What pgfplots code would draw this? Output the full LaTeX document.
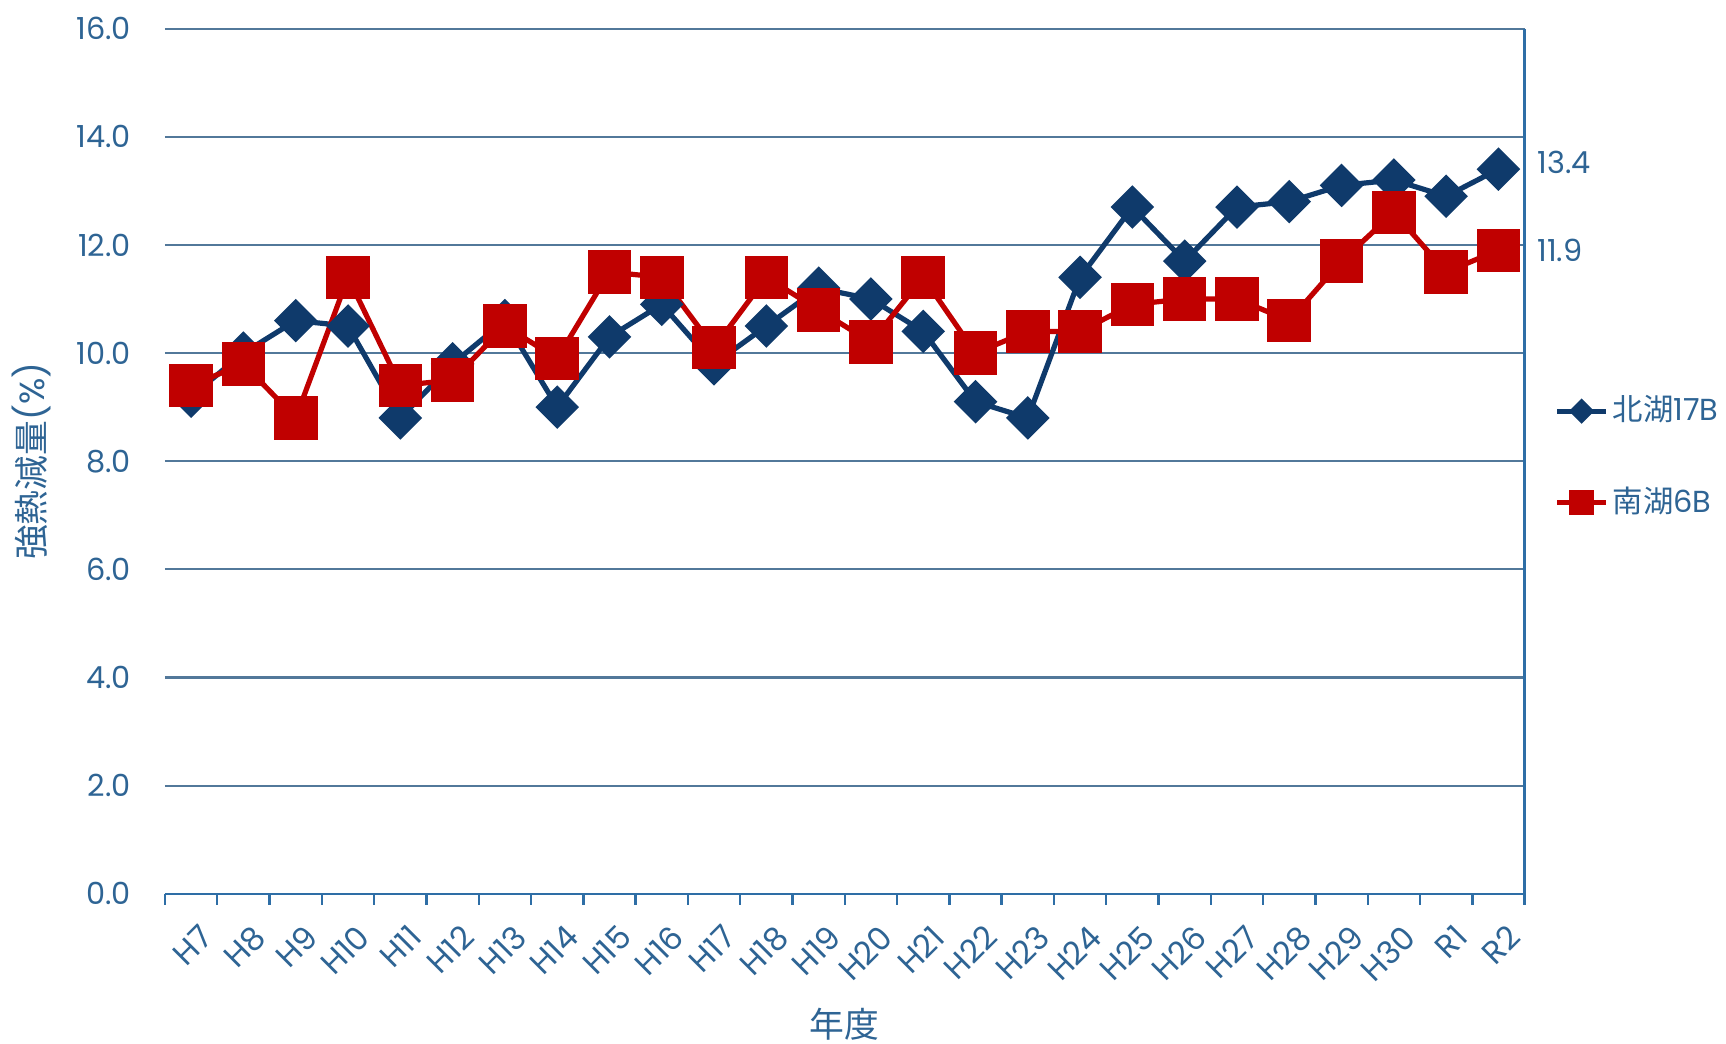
\documentclass[border=0pt]{standalone}
\usepackage{fontspec}
\setmainfont{Poppins}
\newfontfamily\cjk{Noto Sans CJK JP}
\usepackage{pgfplots}
\pgfplotsset{compat=1.18}
\definecolor{navy}{HTML}{0F3A6B}
\definecolor{dred}{HTML}{C00000}
\definecolor{txt}{HTML}{2E6494}
\definecolor{gridc}{HTML}{52789A}
\definecolor{axc}{HTML}{2E6EA6}
\begin{document}
\begin{tikzpicture}
\useasboundingbox (-41.25pt,-37.3pt) rectangle (390.25pt,223.45pt);
\begin{axis}[
  at={(0pt,0pt)}, anchor=south west,
  scale only axis, width=339.9pt, height=216.3pt,
  xmin=-0.5, xmax=25.5, ymin=0, ymax=16,
  clip=false,
  font=\fontsize{7.6}{9}\selectfont,
  /pgf/number format/assume math mode=true,
  xtick={0,...,25},
  xticklabels={H7,H8,H9,H10,H11,H12,H13,H14,H15,H16,H17,H18,H19,H20,H21,H22,H23,H24,H25,H26,H27,H28,H29,H30,R1,R2},
  minor xtick={-0.5,0.5,...,25.5},
  major tick length=0pt,
  minor tick length=2.75pt,
  xtick align=outside,
  xtick pos=bottom,
  minor x tick style={axc, line width=0.6pt},
  major x tick style={draw=none},
  xticklabel style={rotate=45, anchor=north east, text=txt, inner sep=0.5pt, xshift=-3.2pt, yshift=-5.8pt, font=\fontsize{8}{9}\selectfont},
  ytick={0,2,...,16},
  ytick pos=left,
  ytick style={draw=none},
  yticklabel style={text=txt, xshift=-5pt,
    /pgf/number format/.cd, fixed, fixed zerofill, precision=1},
  ymajorgrids,
  major grid style={gridc, line width=0.55pt},
  axis line style={draw=none},
  xlabel={\cjk 年度},
  ylabel={{\cjk 強熱減量}(\%)},
  every axis x label/.style={at={(axis description cs:0.5,0)}, anchor=center, yshift=-32.5pt, text=txt, font=\fontsize{8.7}{10}\selectfont},
  every axis y label/.style={at={(axis description cs:0,0.5)}, rotate=90, anchor=center, yshift=33.5pt, text=txt, font=\fontsize{8.7}{10}\selectfont},
  legend style={at={(rel axis cs:1.0215,0.505)}, anchor=west, draw=none, fill=none,
    font=\fontsize{7.6}{9}\selectfont, text=txt, row sep=11pt, inner sep=0pt,
    nodes={inner xsep=1pt}},
  legend cell align=left,
  legend image code/.code={\draw[mark repeat=2, mark phase=2, #1] plot coordinates {(0pt,0pt) (6.1pt,0pt) (12.25pt,0pt)};},
]
\draw[axc, line width=0.6pt] (rel axis cs:0,0) -- (rel axis cs:1,0) -- (rel axis cs:1,1);
\addplot[navy, line width=1.3pt, mark=square*, mark size=3.2pt, mark options={rotate=45, solid, fill=navy},
  legend image post style={mark size=1.6pt}]
  coordinates {(0,9.2)(1,10.0)(2,10.6)(3,10.5)(4,8.8)(5,9.8)(6,10.6)(7,9.0)(8,10.3)(9,10.9)(10,9.8)(11,10.5)(12,11.2)(13,11.0)(14,10.4)(15,9.1)(16,8.8)(17,11.4)(18,12.7)(19,11.7)(20,12.7)(21,12.8)(22,13.1)(23,13.2)(24,12.9)(25,13.4)};
\addlegendentry{{\cjk 北湖}17B}
\addplot[dred, line width=1.3pt, mark=square*, mark size=4.8pt, mark options={solid, fill=dred},
  legend image post style={mark size=2.4pt}]
  coordinates {(0,9.4)(1,9.8)(2,8.8)(3,11.4)(4,9.4)(5,9.5)(6,10.5)(7,9.9)(8,11.5)(9,11.4)(10,10.1)(11,11.4)(12,10.8)(13,10.2)(14,11.4)(15,10.0)(16,10.4)(17,10.4)(18,10.9)(19,11.0)(20,11.0)(21,10.6)(22,11.7)(23,12.6)(24,11.5)(25,11.9)};
\addlegendentry{{\cjk 南湖}6B}
\node[anchor=west, text=txt, xshift=-0.3pt, yshift=1.75pt] at (axis cs:25.5,13.4) {13.4};
\node[anchor=west, text=txt, xshift=-0.3pt] at (axis cs:25.5,11.9) {11.9};
\end{axis}
\end{tikzpicture}
\end{document}
